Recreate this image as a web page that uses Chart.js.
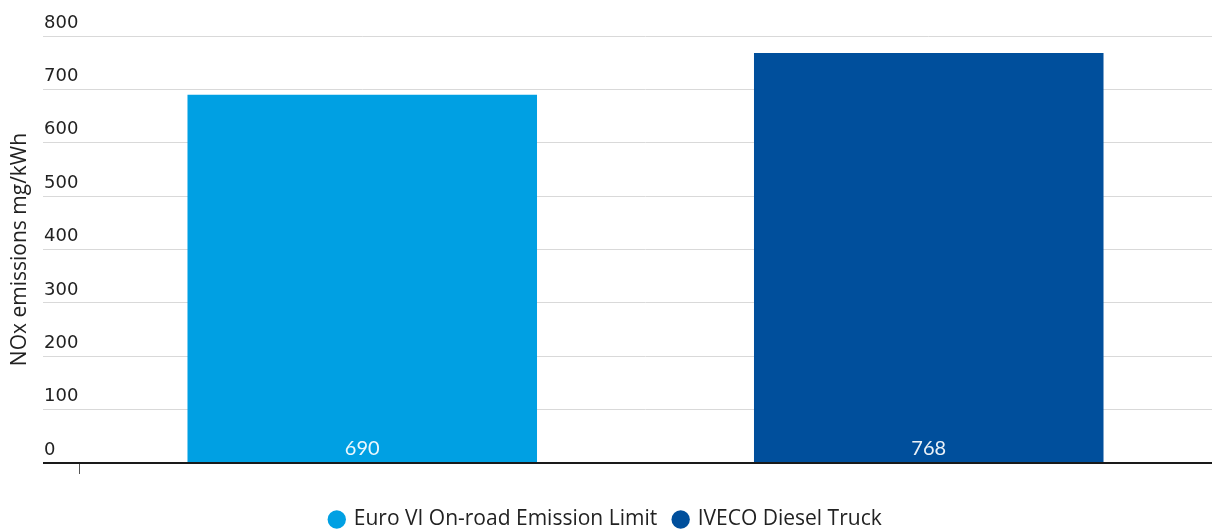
<!DOCTYPE html>
<html>
<head>
<meta charset="utf-8">
<script src="https://cdn.jsdelivr.net/npm/chart.js@4.4.1/dist/chart.umd.min.js"></script>
<style>
  html, body { margin: 0; padding: 0; background: #fff; }
  #wrap { width: 1212px; height: 530px; }
</style>
</head>
<body>
<div id="wrap"><canvas id="myChart"></canvas></div>
<script>
const categories = [''];
const seriesNames = ['Euro VI On-road Emission Limit', 'IVECO Diesel Truck'];
const euroLimit = [690];
const ivecoTruck = [768];
const yTicks = [0, 100, 200, 300, 400, 500, 600, 700, 800];
const yTitle = 'NOx emissions mg/kWh';

// white value labels at the foot of each bar
const barValues = {
    id: 'barValues',
    afterDatasetsDraw(chart) {
        const ctx = chart.ctx;
        ctx.save();
        ctx.font = '20px Lato';
        ctx.fillStyle = 'rgba(255,255,255,0.92)';
        ctx.textAlign = 'center';
        ctx.textBaseline = 'middle';
        chart.data.datasets.forEach((ds, i) => {
            chart.getDatasetMeta(i).data.forEach((bar, j) => {
                ctx.fillText(ds.data[j], bar.x, bar.base - 13);
            });
        });
        ctx.restore();
    }
};

const el = document.getElementById('myChart');

new Chart(el, {
    type: 'bar',
    data: {
        labels: categories,
        datasets: [{
            label: seriesNames[0],
            data: euroLimit,
            backgroundColor: '#00a0e3',
            categoryPercentage: 1.0,
            barPercentage: 0.617
        }, {
            label: seriesNames[1],
            data: ivecoTruck,
            backgroundColor: '#004f9c',
            categoryPercentage: 1.0,
            barPercentage: 0.617
        }]
    },
    options: {
        responsive: true,
        maintainAspectRatio: false,
        animation: false,
        layout: {
            padding: { top: 36, right: 0, left: 0, bottom: -10 }
        },
        plugins: {
            legend: {
                position: 'bottom',
                labels: {
                    usePointStyle: true,
                    pointStyle: 'circle',
                    boxWidth: 13,
                    boxHeight: 13,
                    padding: 17,
                    color: '#222',
                    font: { family: 'Open Sans', size: 21 }
                }
            },
            tooltip: { enabled: false }
        },
        scales: {
            x: {
                offset: true,
                afterFit: (s) => { s.height = 29; },
                ticks: { display: false },
                grid: {
                    offset: true,
                    drawOnChartArea: false,
                    drawTicks: true,
                    tickLength: 11,
                    color: '#555'
                },
                border: { display: true, color: '#1a1a1a', width: 2 }
            },
            y: {
                min: 0,
                max: 800,
                afterBuildTicks: (s) => { s.ticks = yTicks.map(v => ({ value: v })); },
                afterFit: (s) => { s.width = 79; },
                title: {
                    display: true,
                    text: yTitle,
                    color: '#222',
                    font: { family: 'Open Sans', size: 21 },
                    padding: { top: 7, bottom: 4 }
                },
                ticks: {
                    mirror: true,
                    padding: -35,
                    labelOffset: -13,
                    color: '#222',
                    font: { family: 'DejaVu Sans', size: 18 }
                },
                grid: {
                    drawTicks: true,
                    tickLength: 36,
                    color: (c) => c.tick && c.tick.value === 0 ? '#1a1a1a' : '#d9d9d9',
                    tickColor: (c) => c.tick && c.tick.value === 0 ? '#1a1a1a' : '#d9d9d9',
                    lineWidth: (c) => c.tick && c.tick.value === 0 ? 2 : 1
                },
                border: { display: false }
            }
        }
    },
    plugins: [barValues]
});
</script>
</body>
</html>
